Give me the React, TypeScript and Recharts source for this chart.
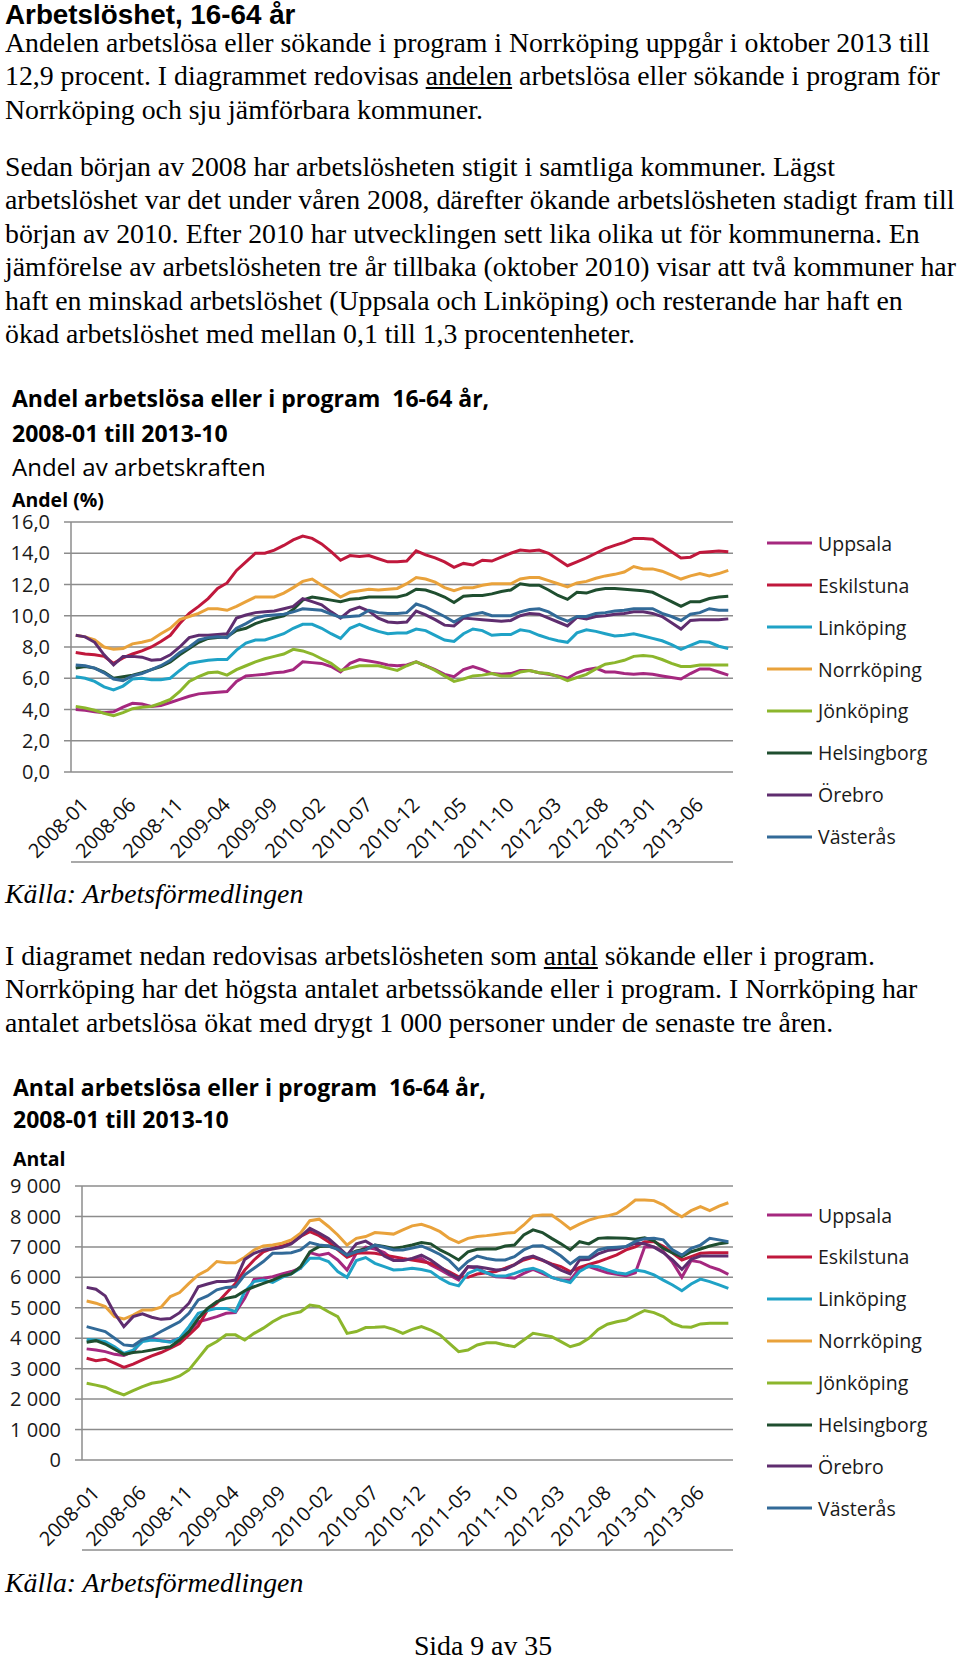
import React from "react";
import { LineChart, Line, XAxis, YAxis, CartesianGrid } from "recharts";

// categories: 2008-01 .. 2013-10
const months: string[] = [];
for (let y = 2008; y <= 2013; y++) {
  for (let m = 1; m <= 12; m++) {
    if (y === 2013 && m > 10) break;
    months.push(`${y}-${String(m).padStart(2, "0")}`);
  }
}

const kommuner = ["Uppsala", "Eskilstuna", "Linköping", "Norrköping", "Jönköping", "Helsingborg", "Örebro", "Västerås"];
const colors = ["#A5287F", "#C0183C", "#1FA2C6", "#E9A23B", "#8CB62C", "#1F4E2F", "#5F2D6F", "#326A98"];

// Andel (%)
const andelUppsala = [
  4.0, 3.95, 3.85, 3.8, 3.85, 4.15, 4.4, 4.35, 4.2, 4.25,
  4.45, 4.65, 4.85, 5.0, 5.05, 5.1, 5.15, 5.8, 6.15, 6.2,
  6.25, 6.35, 6.4, 6.55, 7.05, 7.0, 6.95, 6.75, 6.4, 6.95,
  7.2, 7.1, 7.0, 6.85, 6.8, 6.85, 7.05, 6.8, 6.55, 6.25,
  6.1, 6.55, 6.75, 6.55, 6.3, 6.25, 6.3, 6.5, 6.5, 6.35,
  6.25, 6.15, 6.0, 6.35, 6.55, 6.65, 6.4, 6.4, 6.3, 6.25,
  6.3, 6.25, 6.15, 6.05, 5.95, 6.3, 6.6, 6.6, 6.4, 6.2,
];
const andelEskilstuna = [
  7.65, 7.55, 7.5, 7.4, 6.95, 7.3, 7.55, 7.75, 8.0, 8.35,
  8.75, 9.5, 10.15, 10.6, 11.1, 11.75, 12.1, 12.9, 13.45, 14.0,
  14.0, 14.2, 14.5, 14.85, 15.1, 14.95, 14.6, 14.1, 13.55, 13.85,
  13.8, 13.85, 13.65, 13.45, 13.45, 13.5, 14.15, 13.9, 13.7, 13.45,
  13.1, 13.35, 13.25, 13.55, 13.5, 13.75, 14.0, 14.2, 14.15, 14.2,
  14.0, 13.6, 13.2, 13.45, 13.7, 14.0, 14.3, 14.5, 14.7, 14.95,
  14.95, 14.9, 14.5, 14.1, 13.7, 13.75, 14.05, 14.1, 14.15, 14.1,
];
const andelLinkoping = [
  6.1, 6.0, 5.8, 5.45, 5.25, 5.5, 5.95, 6.0, 5.9, 5.9,
  6.0, 6.5, 6.95, 7.05, 7.15, 7.2, 7.2, 7.8, 8.25, 8.45,
  8.45, 8.65, 8.85, 9.2, 9.45, 9.45, 9.2, 8.85, 8.55, 9.2,
  9.45, 9.2, 9.0, 8.85, 8.9, 8.9, 9.15, 9.05, 8.75, 8.45,
  8.35, 8.85, 9.15, 9.05, 8.75, 8.8, 8.8, 9.1, 9.0, 8.75,
  8.55, 8.4, 8.3, 8.9, 9.1, 9.0, 8.85, 8.7, 8.75, 8.85,
  8.7, 8.55, 8.4, 8.15, 7.85, 8.1, 8.35, 8.3, 8.05, 7.9,
];
const andelNorrkoping = [
  8.75, 8.65, 8.45, 8.0, 7.85, 7.9, 8.2, 8.3, 8.45, 8.85,
  9.2, 9.75, 9.95, 10.15, 10.45, 10.45, 10.35, 10.6, 10.9, 11.2,
  11.2, 11.2, 11.45, 11.8, 12.2, 12.35, 11.95, 11.6, 11.2, 11.5,
  11.6, 11.7, 11.65, 11.7, 11.75, 12.05, 12.45, 12.35, 12.15, 11.8,
  11.6, 11.8, 11.8, 11.95, 12.05, 12.05, 12.05, 12.35, 12.45, 12.45,
  12.25, 12.05, 11.85, 12.1, 12.2, 12.4, 12.55, 12.65, 12.8, 13.15,
  13.0, 13.0, 12.85, 12.6, 12.35, 12.55, 12.7, 12.55, 12.7, 12.9,
];
const andelJonkoping = [
  4.2, 4.1, 3.95, 3.75, 3.6, 3.8, 4.05, 4.15, 4.2, 4.4,
  4.65, 5.15, 5.8, 6.1, 6.35, 6.4, 6.2, 6.55, 6.8, 7.05,
  7.25, 7.4, 7.55, 7.85, 7.75, 7.55, 7.25, 6.95, 6.5, 6.65,
  6.8, 6.8, 6.8, 6.65, 6.5, 6.8, 7.05, 6.8, 6.5, 6.15,
  5.8, 5.95, 6.15, 6.2, 6.3, 6.15, 6.15, 6.4, 6.5, 6.35,
  6.3, 6.1, 5.85, 6.05, 6.25, 6.6, 6.9, 7.0, 7.15, 7.4,
  7.45, 7.4, 7.2, 6.95, 6.75, 6.75, 6.85, 6.85, 6.85, 6.85,
];
const andelHelsingborg = [
  6.65, 6.75, 6.65, 6.4, 6.0, 6.1, 6.2, 6.35, 6.55, 6.75,
  7.05, 7.5, 7.9, 8.3, 8.55, 8.6, 8.65, 9.05, 9.2, 9.5,
  9.7, 9.85, 10.0, 10.4, 11.0, 11.2, 11.1, 11.0, 10.9, 11.05,
  11.1, 11.2, 11.2, 11.2, 11.2, 11.35, 11.7, 11.65, 11.45, 11.2,
  10.85, 11.25, 11.3, 11.3, 11.4, 11.55, 11.65, 12.05, 11.95, 11.95,
  11.65, 11.3, 11.05, 11.5, 11.45, 11.65, 11.75, 11.75, 11.7, 11.65,
  11.6, 11.5, 11.2, 10.9, 10.6, 10.9, 10.9, 11.1, 11.2, 11.25,
];
const andelOrebro = [
  8.75, 8.65, 8.3, 7.5, 6.85, 7.4, 7.4, 7.35, 7.15, 7.2,
  7.5, 8.0, 8.6, 8.75, 8.75, 8.8, 8.85, 9.85, 10.05, 10.2,
  10.25, 10.3, 10.45, 10.6, 11.1, 10.9, 10.7, 10.25, 9.85, 10.35,
  10.55, 10.3, 9.85, 9.6, 9.55, 9.6, 10.3, 10.05, 9.75, 9.4,
  9.35, 9.85, 9.8, 9.75, 9.7, 9.65, 9.7, 10.0, 10.15, 10.1,
  9.85, 9.6, 9.35, 9.9, 9.8, 9.95, 10.0, 10.1, 10.15, 10.25,
  10.25, 10.15, 9.95, 9.55, 9.15, 9.7, 9.75, 9.75, 9.75, 9.8,
];
const andelVasteras = [
  6.85, 6.8, 6.65, 6.35, 5.95, 5.85, 6.15, 6.3, 6.55, 6.8,
  7.15, 7.65, 8.0, 8.45, 8.6, 8.65, 8.6, 9.2, 9.5, 9.85,
  10.0, 10.05, 10.1, 10.25, 10.45, 10.4, 10.35, 10.1, 9.9, 9.95,
  10.0, 10.35, 10.2, 10.15, 10.15, 10.2, 10.75, 10.55, 10.25, 9.95,
  9.6, 9.95, 10.1, 10.2, 10.0, 10.0, 10.0, 10.25, 10.4, 10.45,
  10.25, 9.9, 9.65, 9.95, 9.95, 10.15, 10.2, 10.3, 10.35, 10.45,
  10.45, 10.45, 10.15, 9.95, 9.7, 10.1, 10.2, 10.45, 10.35, 10.35,
];

// Antal
const antalUppsala = [
  3650, 3610, 3560, 3470, 3430, 3560, 3940, 4000, 3920, 3890,
  4000, 4220, 4540, 4620, 4710, 4820, 4840, 5310, 5930, 5970,
  6020, 6110, 6190, 6300, 6810, 6730, 6790, 6570, 6240, 6790,
  6990, 6930, 6810, 6570, 6570, 6600, 6620, 6410, 6250, 6080,
  5910, 6350, 6300, 6150, 6020, 6000, 5970, 6130, 6260, 6130,
  6000, 5910, 5910, 6300, 6350, 6250, 6150, 6100, 6050, 6150,
  7000, 7000, 6850, 6500, 6000, 6550, 6500, 6350, 6250, 6100,
];
const antalEskilstuna = [
  3340, 3260, 3310, 3180, 3040, 3150, 3290, 3420, 3530, 3670,
  3830, 4110, 4400, 4930, 5150, 5480, 5800, 6240, 6570, 6840,
  6950, 7030, 7120, 7340, 7500, 7370, 7170, 6900, 6660, 6790,
  6810, 6790, 6730, 6680, 6620, 6570, 6520, 6460, 6320, 6180,
  6020, 6000, 6110, 6150, 6190, 6300, 6420, 6570, 6660, 6560,
  6440, 6350, 6190, 6330, 6420, 6510, 6620, 6740, 6900, 7000,
  7170, 7170, 7020, 6800, 6570, 6680, 6790, 6810, 6810, 6810,
];
const antalLinkoping = [
  3960, 3940, 3890, 3720, 3500, 3610, 3890, 3940, 3920, 3870,
  4000, 4380, 4820, 4910, 4980, 4980, 4870, 5530, 5860, 5910,
  5830, 6000, 6110, 6300, 6630, 6630, 6520, 6190, 6000, 6550,
  6650, 6460, 6350, 6240, 6260, 6300, 6260, 6190, 5970, 5800,
  5720, 6130, 6260, 6150, 6040, 6040, 6130, 6240, 6300, 6190,
  6000, 5910, 5830, 6190, 6370, 6350, 6240, 6150, 6110, 6240,
  6190, 6080, 5910, 5750, 5560, 5780, 5940, 5860, 5750, 5640,
];
const antalNorrkoping = [
  5220, 5150, 5040, 4710, 4630, 4760, 4930, 4930, 5020, 5370,
  5500, 5800, 6080, 6240, 6520, 6480, 6480, 6660, 6900, 7030,
  7060, 7120, 7230, 7450, 7860, 7910, 7670, 7390, 7060, 7280,
  7340, 7470, 7450, 7420, 7560, 7690, 7740, 7640, 7500, 7280,
  7140, 7280, 7340, 7370, 7410, 7450, 7470, 7720, 8020, 8050,
  8050, 7830, 7590, 7750, 7880, 7970, 8020, 8100, 8300, 8540,
  8540, 8520, 8380, 8160, 7990, 8190, 8320, 8190, 8340, 8450,
];
const antalJonkoping = [
  2520, 2460, 2390, 2250, 2140, 2280, 2410, 2520, 2570, 2650,
  2760, 2960, 3340, 3720, 3890, 4110, 4110, 3940, 4160, 4330,
  4540, 4710, 4800, 4870, 5090, 5040, 4870, 4710, 4160, 4220,
  4350, 4360, 4380, 4290, 4160, 4290, 4380, 4270, 4110, 3830,
  3560, 3610, 3780, 3850, 3850, 3780, 3720, 3940, 4160, 4110,
  4050, 3890, 3720, 3810, 4000, 4290, 4460, 4540, 4600, 4760,
  4910, 4840, 4710, 4490, 4380, 4360, 4470, 4490, 4490, 4490,
];
const antalHelsingborg = [
  3870, 3920, 3810, 3640, 3470, 3530, 3560, 3610, 3670, 3720,
  3940, 4220, 4650, 4980, 5200, 5310, 5370, 5560, 5690, 5800,
  5910, 6040, 6110, 6350, 6840, 7010, 7030, 6950, 6730, 6870,
  6930, 7060, 7010, 6950, 7000, 7060, 7140, 7100, 6900, 6750,
  6570, 6840, 6920, 6930, 6930, 7030, 7060, 7390, 7560, 7470,
  7280, 7100, 6900, 7170, 7100, 7280, 7300, 7290, 7280, 7250,
  7300, 7200, 6950, 6800, 6680, 6840, 6930, 7030, 7100, 7140,
];
const antalOrebro = [
  5670, 5610, 5390, 4820, 4380, 4710, 4800, 4690, 4620, 4650,
  4840, 5150, 5690, 5780, 5860, 5860, 5910, 6590, 6790, 6900,
  6930, 6990, 7100, 7340, 7610, 7450, 7280, 7010, 6730, 7100,
  7190, 7010, 6700, 6550, 6550, 6620, 6730, 6570, 6350, 6130,
  5970, 6350, 6350, 6300, 6240, 6260, 6410, 6620, 6700, 6570,
  6410, 6240, 6110, 6570, 6590, 6770, 6880, 6920, 7010, 7120,
  7100, 6990, 6810, 6570, 6260, 6590, 6700, 6700, 6700, 6700,
];
const antalVasteras = [
  4380, 4300, 4220, 4000, 3780, 3750, 3960, 4050, 4220, 4380,
  4540, 4820, 5260, 5390, 5590, 5670, 5690, 6080, 6300, 6520,
  6790, 6790, 6810, 6900, 7140, 7060, 7030, 6920, 6730, 6840,
  6900, 7060, 6990, 6900, 6900, 6960, 7030, 6900, 6750, 6550,
  6240, 6520, 6700, 6620, 6570, 6570, 6680, 6900, 7030, 7040,
  6900, 6700, 6440, 6660, 6660, 6900, 6970, 6990, 7010, 7180,
  7270, 7280, 7230, 6900, 6730, 6950, 7060, 7280, 7230, 7170,
];

const andelSeries = [andelUppsala, andelEskilstuna, andelLinkoping, andelNorrkoping, andelJonkoping, andelHelsingborg, andelOrebro, andelVasteras];
const antalSeries = [antalUppsala, antalEskilstuna, antalLinkoping, antalNorrkoping, antalJonkoping, antalHelsingborg, antalOrebro, antalVasteras];

const andelTicks = [0, 2, 4, 6, 8, 10, 12, 14, 16];
const antalTicks = [0, 1000, 2000, 3000, 4000, 5000, 6000, 7000, 8000, 9000];

function buildRows(series: number[][]) {
  return months.map((m, i) => {
    const row: any = { x: i + 0.5, month: m };
    kommuner.forEach((k, s) => (row[k] = series[s][i]));
    return row;
  });
}

const boundaryTicks = months.map((_, i) => i).concat(months.length);
const labelTicks = months.map((_, i) => i + 0.5).filter((_, i) => i % 5 === 0);

const GRID = "#8c8c8c";
const CHART_FONT = "'Open Sans', sans-serif";
const SERIF = "'Liberation Serif', 'Times New Roman', serif";

function MonthTick({ x, y, payload }: any) {
  const label = months[Math.floor(payload.value)];
  return (
    <g transform={`translate(${x + 9},${y + 29}) rotate(-45)`}>
      <text x={0} y={0} dy="0.36em" textAnchor="end" fontSize={20} fontFamily={CHART_FONT} fill="#111">
        {label}
      </text>
    </g>
  );
}

function Chart({ series, top, yWidth, yMax, ticks, fmt, height }: any) {
  const rows = buildRows(series);
  return (
    <div style={{ position: "absolute", left: 0, top }}>
      <LineChart width={741} height={height} data={rows} margin={{ top: 22, right: 8, left: 0, bottom: 0 }}>
        <CartesianGrid xAxisId="t" vertical={false} stroke={GRID} strokeWidth={1.5} />
        <XAxis
          xAxisId="t"
          dataKey="x"
          type="number"
          domain={[0, months.length]}
          ticks={boundaryTicks}
          interval={0}
          tick={false}
          tickSize={6}
          height={8}
          axisLine={{ stroke: GRID, strokeWidth: 1.5 }}
          tickLine={{ stroke: GRID, strokeWidth: 1 }}
        />
        <XAxis
          xAxisId="l"
          dataKey="x"
          type="number"
          domain={[0, months.length]}
          ticks={labelTicks}
          interval={0}
          tick={<MonthTick />}
          tickSize={0}
          tickMargin={0}
          height={90}
          axisLine={false}
          tickLine={false}
        />
        <YAxis
          type="number"
          domain={[0, yMax]}
          ticks={ticks}
          interval={0}
          width={yWidth}
          tickFormatter={fmt}
          tickSize={7}
          tickMargin={14}
          axisLine={{ stroke: GRID, strokeWidth: 1.5 }}
          tickLine={{ stroke: GRID, strokeWidth: 1.5 }}
          tick={{ fontSize: 20, fill: "#1a1a1a", fontFamily: CHART_FONT }}
        />
        {kommuner.map((k, s) => (
          <Line
            key={k}
            xAxisId="t"
            type="linear"
            dataKey={k}
            stroke={colors[s]}
            strokeWidth={3}
            dot={false}
            activeDot={false}
            isAnimationActive={false}
          />
        ))}
      </LineChart>
    </div>
  );
}

function Legend({ top }: { top: number }) {
  return (
    <>
      {kommuner.map((k, s) => (
        <div
          key={k}
          style={{
            position: "absolute",
            left: 767,
            top: top + s * 41.9 - 15,
            height: 30,
            display: "flex",
            alignItems: "center",
            fontFamily: CHART_FONT,
            fontSize: 19.5,
            color: "#1a1a1a",
            whiteSpace: "nowrap",
          }}
        >
          <svg width={51} height={6} style={{ display: "block" }}>
            <line x1={0} y1={3} x2={45} y2={3} stroke={colors[s]} strokeWidth={3} />
          </svg>
          <span>{k}</span>
        </div>
      ))}
    </>
  );
}

function Lines({ top, lines, style }: any) {
  return (
    <div style={{ position: "absolute", left: 5, top, fontFamily: SERIF, fontSize: 27.8, lineHeight: "33.4px", whiteSpace: "nowrap", color: "#000", ...style }}>
      {lines.map((l: any, i: number) => (
        <div key={i}>{l}</div>
      ))}
    </div>
  );
}

function ChartText({ top, left, size, bold, children }: any) {
  return (
    <div style={{ position: "absolute", left, top, fontFamily: CHART_FONT, fontSize: size, lineHeight: `${size}px`, fontWeight: bold ? 700 : 400, whiteSpace: "nowrap", color: "#000" }}>
      {children}
    </div>
  );
}

const fmtAndel = (v: number) => v.toFixed(1).replace(".", ",");
const fmtAntal = (v: number) => (v === 0 ? "0" : `${Math.round(v / 1000)} 000`);

export default function App() {
  return (
    <div style={{ position: "relative", width: 960, height: 1665, overflow: "hidden", background: "#fff" }}>
      <style>{`body{margin:0}`}</style>
      <div style={{ position: "absolute", left: 5, top: 0, fontFamily: "'Liberation Sans', Arial, sans-serif", fontWeight: 700, fontSize: 27.8, lineHeight: "30px", whiteSpace: "nowrap" }}>
        Arbetslöshet, 16-64 år
      </div>
      <Lines
        top={26}
        lines={[
          "Andelen arbetslösa eller sökande i program i Norrköping uppgår i oktober 2013 till",
          <>12,9 procent. I diagrammet redovisas <u>andelen</u> arbetslösa eller sökande i program för</>,
          "Norrköping och sju jämförbara kommuner.",
        ]}
      />
      <Lines
        top={150}
        lines={[
          "Sedan början av 2008 har arbetslösheten stigit i samtliga kommuner. Lägst",
          "arbetslöshet var det under våren 2008, därefter ökande arbetslösheten stadigt fram till",
          "början av 2010. Efter 2010 har utvecklingen sett lika olika ut för kommunerna. En",
          "jämförelse av arbetslösheten tre år tillbaka (oktober 2010) visar att två kommuner har",
          "haft en minskad arbetslöshet (Uppsala och Linköping) och resterande har haft en",
          "ökad arbetslöshet med mellan 0,1 till 1,3 procentenheter.",
        ]}
      />

      <ChartText top={386.6} left={12} size={23} bold>Andel arbetslösa eller i program&nbsp; 16-64 år,</ChartText>
      <ChartText top={421.6} left={12} size={23} bold>2008-01 till 2013-10</ChartText>
      <ChartText top={455.4} left={12} size={24}>Andel av arbetskraften</ChartText>
      <ChartText top={490} left={12} size={19.5} bold>Andel (%)</ChartText>
      <Chart series={andelSeries} top={500} height={370} yWidth={71} yMax={16} ticks={andelTicks} fmt={fmtAndel} />
      <Legend top={543.3} />
      <Lines top={877} lines={[<i>Källa: Arbetsförmedlingen</i>]} />

      <Lines
        top={939}
        lines={[
          <>I diagramet nedan redovisas arbetslösheten som <u>antal</u> sökande eller i program.</>,
          "Norrköping har det högsta antalet arbetssökande eller i program. I Norrköping har",
          "antalet arbetslösa ökat med drygt 1 000 personer under de senaste tre åren.",
        ]}
      />

      <ChartText top={1075.6} left={13} size={23} bold>Antal arbetslösa eller i program&nbsp; 16-64 år,</ChartText>
      <ChartText top={1107.6} left={13} size={23} bold>2008-01 till 2013-10</ChartText>
      <ChartText top={1148.7} left={13} size={19.5} bold>Antal</ChartText>
      <Chart series={antalSeries} top={1164} height={394} yWidth={82} yMax={9000} ticks={antalTicks} fmt={fmtAntal} />
      <Legend top={1215} />
      <Lines top={1566} lines={[<i>Källa: Arbetsförmedlingen</i>]} />

      <div style={{ position: "absolute", left: 0, width: 966, top: 1630, textAlign: "center", fontFamily: SERIF, fontSize: 27.8, lineHeight: "31px" }}>
        Sida 9 av 35
      </div>
    </div>
  );
}
